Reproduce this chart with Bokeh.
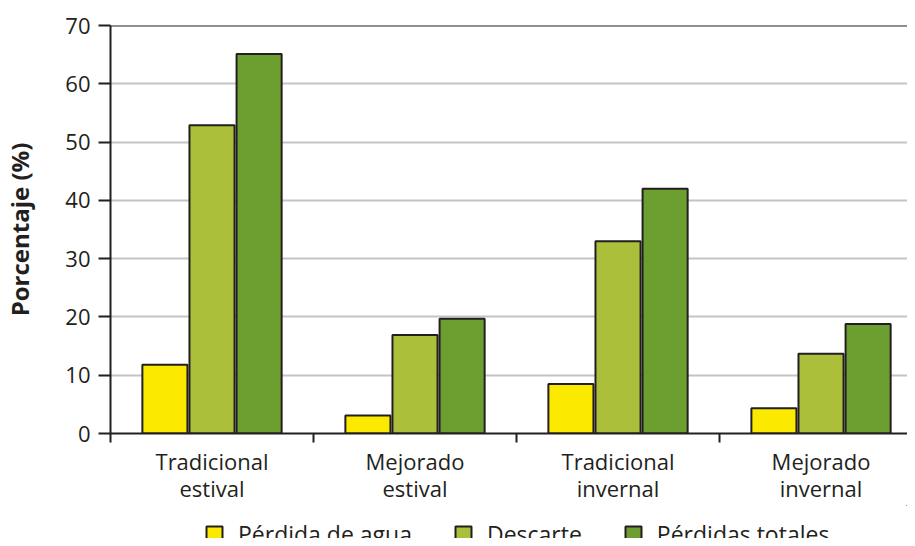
from bokeh.plotting import figure
from bokeh.models import Range1d, FixedTicker, Legend, LegendItem, Span
from bokeh.layouts import column
from bokeh.embed import file_html
from bokeh.resources import INLINE
import numpy as np

# ---- data ----
categories = ["Tradicional\nestival", "Mejorado\nestival", "Tradicional\ninvernal", "Mejorado\ninvernal"]
series_names = ["Pérdida de agua", "Descarte", "Pérdidas totales"]
perdida_agua = [11.8, 3.1, 8.5, 4.35]
descarte = [52.9, 16.9, 33.0, 13.7]
perdidas_totales = [65.1, 19.7, 42.0, 18.8]
y_ticks = [0, 10, 20, 30, 40, 50, 60, 70]

# ---- style ----
colors = ["#FBE900", "#ABBF3A", "#6C9F30"]
dark = "#231F20"
font = "Open Sans"

n = len(categories)
centers = np.arange(n) + 0.5
offsets = [-0.232, 0.0, 0.232]
bar_w = 0.222

p = figure(width=907, height=505, output_backend="svg", toolbar_location=None,
           x_range=Range1d(0, 3.926), y_range=Range1d(y_ticks[0], y_ticks[-1]),
           min_border_left=110, min_border_top=25, min_border_right=0,
           min_border_bottom=72)
p.outline_line_color = None
p.background_fill_color = "white"

for vals, off, col in zip([perdida_agua, descarte, perdidas_totales], offsets, colors):
    p.vbar(x=centers + off, top=vals, bottom=0, width=bar_w,
           fill_color=col, line_color=dark, line_width=2)

# top line at 70
p.add_layout(Span(location=y_ticks[-1], dimension="width", line_color=dark, line_width=2))

# y axis
yax = p.yaxis[0]
yax.ticker = FixedTicker(ticks=y_ticks)
yax.axis_line_color = dark
yax.axis_line_width = 2
yax.major_tick_line_color = dark
yax.major_tick_line_width = 2
yax.major_tick_out = 12
yax.major_tick_in = 0
yax.minor_tick_line_color = None
yax.major_label_text_font = font
yax.major_label_text_font_size = "22px"
yax.major_label_text_color = dark
yax.major_label_standoff = 8
yax.axis_label = "Porcentaje (%)"
yax.axis_label_text_font = font
yax.axis_label_text_font_size = "24px"
yax.axis_label_text_font_style = "bold"
yax.axis_label_text_color = dark
yax.axis_label_standoff = 26

# x axis
xax = p.xaxis[0]
xax.ticker = FixedTicker(ticks=list(centers), minor_ticks=list(np.arange(n)))
xax.major_label_overrides = {float(c): lab for c, lab in zip(centers, categories)}
xax.axis_line_color = dark
xax.axis_line_width = 2
xax.major_tick_line_color = None
xax.major_tick_out = 0
xax.major_tick_in = 0
xax.minor_tick_line_color = dark
xax.minor_tick_line_width = 2
xax.minor_tick_out = 9
xax.minor_tick_in = 0
xax.major_label_text_font = font
xax.major_label_text_font_size = "22px"
xax.major_label_text_color = dark
xax.major_label_text_line_height = 0.9
xax.major_label_standoff = 3

p.xgrid.grid_line_color = None
p.ygrid.grid_line_color = "#C4C4C8"
p.ygrid.grid_line_width = 2
p.ygrid.ticker = FixedTicker(ticks=y_ticks)

# ---- legend strip below the chart ----
lp = figure(width=907, height=33, output_backend="svg", toolbar_location=None,
            x_range=Range1d(0, 1), y_range=Range1d(0, 1),
            x_axis_type=None, y_axis_type=None,
            min_border_left=110, min_border_right=0, min_border_top=0, min_border_bottom=0)
lp.outline_line_color = None
lp.xgrid.visible = False
lp.ygrid.visible = False
# legend proxies: bars placed entirely outside the visible ranges
legend_renderers = [lp.vbar(x=[3], top=[6], bottom=[5], width=0.1,
                            fill_color=col, line_color=dark, line_width=2)
                    for col in colors]
legend = Legend(items=[LegendItem(label=nm, renderers=[r]) for nm, r in zip(series_names, legend_renderers)],
                orientation="horizontal", location=(94, -12),
                glyph_width=20, glyph_height=20, label_standoff=14, spacing=41,
                label_text_font=font, label_text_font_size="23px", label_text_color=dark,
                border_line_alpha=0, background_fill_alpha=0, padding=0, margin=0)
lp.add_layout(legend, "center")

layout = column(p, lp, spacing=0)
open("out.html", "w").write(file_html(layout, INLINE))
